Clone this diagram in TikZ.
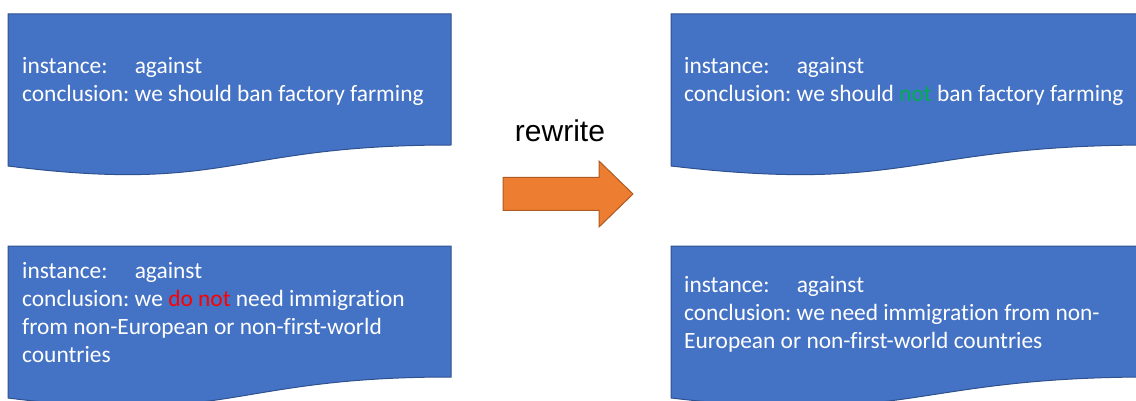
\documentclass[tikz,border=0pt]{standalone}
\usepackage{fontspec}
\setmainfont[Ligatures=NoCommon]{Carlito}
\newfontfamily\arialfont{Liberation Sans}
\usetikzlibrary{positioning}
\frenchspacing

\definecolor{docblue}{HTML}{4472C4}
\definecolor{docline}{HTML}{2F528F}
\definecolor{arrfill}{HTML}{ED7D31}
\definecolor{arrline}{HTML}{AE5A21}
\definecolor{negred}{HTML}{FF0000}
\definecolor{neggreen}{HTML}{00B050}

% document shape: x, y of top left corner, width
\newcommand{\docshape}[3]{%
  \draw[docbox] (#1,#2) -- ({#1+#3},#2) -- ({#1+#3},{#2+131})
    .. controls ({#1+0.5*#3},{#2+131}) and ({#1+0.5*#3},{#2+180}) .. (#1,{#2+152}) -- cycle;}
\newcommand{\inst}{\rlap{instance:}\phantom{conclusion: }}

\begin{document}
\begin{tikzpicture}[x=1pt, y=-1pt,
    docbox/.style={fill=docblue, draw=docline, line width=1pt},
    arrowbox/.style={fill=arrfill, draw=arrline, line width=1pt, line join=miter},
    doctext/.style={text=white, align=left, inner sep=0pt, anchor=base west,
                    font=\fontsize{23.4}{28}\selectfont}]
  \useasboundingbox (0,0) rectangle (1136,401);
  \clip (0,0) rectangle (1136,401);

  \docshape{8}{14}{443}
  \docshape{8}{246}{443}
  \docshape{671}{14}{480}
  \docshape{671}{246}{480}

  % anchored at the baseline of the last line
  \node[doctext] (A) at (22,102)
    {\inst against\\conclusion: we should ban factory farming};
  \node[doctext] (B) at (22,362)
    {\inst against\\conclusion: we \textcolor{negred}{do not} need immigration\\
     from non-European or non-first-world\\countries};
  \node[doctext] (C) at (684,102)
    {\inst against\\conclusion: we should \textcolor{neggreen}{not} ban factory farming};
  \node[doctext] (D) at (684,348)
    {\inst against\\conclusion: we need immigration from non-\\
     European or non-first-world countries};

  % block arrow
  \coordinate (W) at (503,194);
  \draw[arrowbox] (W) ++(0,-16.5) -- ++(96,0) -- ++(0,-16.5) -- ++(34,33)
    -- ++(-34,33) -- ++(0,-16.5) -- ++(-96,0) -- cycle;
  \node[font=\arialfont\fontsize{30}{36}\selectfont, inner sep=0pt, anchor=base]
    (R) at (560,142) {rewrite};
\end{tikzpicture}
\end{document}
